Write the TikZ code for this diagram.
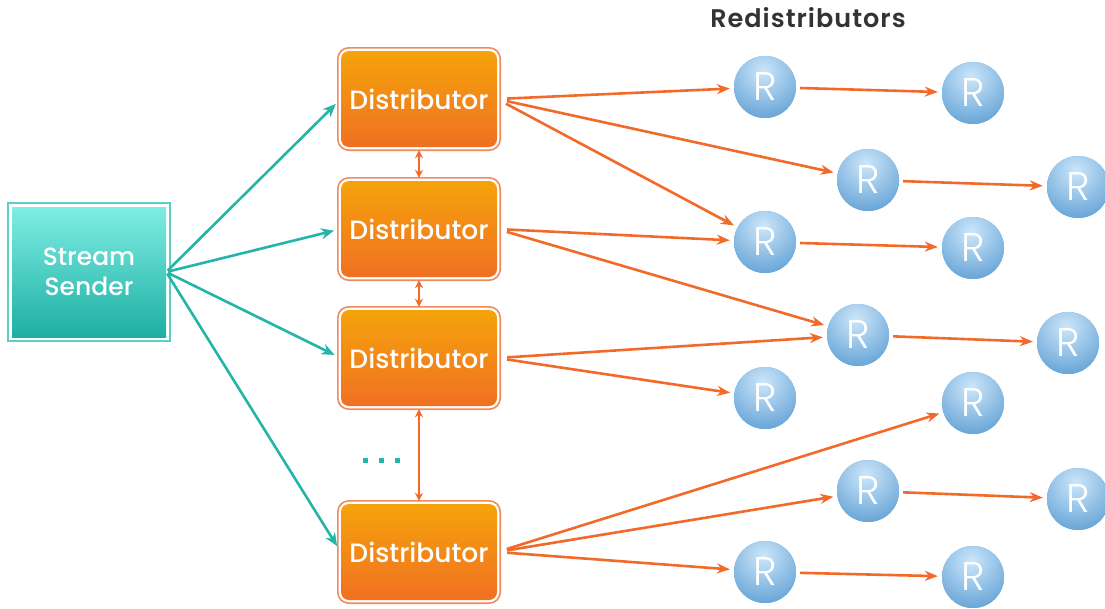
\documentclass[tikz,border=0pt]{standalone}
\usepackage{fontspec}
\setmainfont{Poppins}
\IfFontExistsTF{Poppins Light}{\newfontfamily\rfont{Poppins Light}}{\newfontfamily\rfont{Poppins}}
\IfFontExistsTF{Poppins Medium}{\newfontfamily\mfont{Poppins Medium}}{\newfontfamily\mfont{Poppins}}
\IfFontExistsTF{Poppins SemiBold}{\newfontfamily\sbfont{Poppins SemiBold}[LetterSpace=4]}{\newfontfamily\sbfont{Poppins}[LetterSpace=4]}
\usetikzlibrary{arrows.meta,calc}
\definecolor{distTop}{HTML}{F5A30B}
\definecolor{distBot}{HTML}{F07022}
\definecolor{distFrame}{HTML}{F28A5C}
\definecolor{tealTop}{HTML}{7FEDE3}
\definecolor{tealBot}{HTML}{1DAFA3}
\definecolor{tealFrame}{HTML}{5CCFC5}
\definecolor{tealArrow}{HTML}{22B5A8}
\definecolor{orArrow}{HTML}{F26A2A}
\definecolor{rLight}{HTML}{CCE6FA}
\definecolor{rDark}{HTML}{5A9CD2}
\definecolor{titleGray}{HTML}{333333}
\tikzset{
  distbox/.style={rectangle, rounded corners=8, minimum width=156, minimum height=96,
    top color=distTop, bottom color=distBot, draw=none, text=white,
    font=\mfont\fontsize{26.5}{30}\selectfont},
  sendbox/.style={rectangle, minimum width=154, minimum height=130,
    top color=tealTop, bottom color=tealBot, draw=none, text=white, align=center,
    font=\mfont\fontsize{25}{30}\selectfont},
  rnode/.style={circle, minimum size=62, inner sep=0, fill=rDark, text=white,
    font=\rfont\fontsize{40}{40}\selectfont,
    path picture={\shade[inner color=rLight, outer color=rDark]
      ($(path picture bounding box.center)+(-2,-16)$) circle (54);}},
  tarrow/.style={draw=tealArrow, line width=2.6, -{Stealth[length=13,width=11]}},
  oarrow/.style={draw=orArrow, line width=2.6, -{Stealth[length=13,width=10]}},
  darrow/.style={draw=orArrow, line width=2, {Stealth[length=8,width=8]}-{Stealth[length=8,width=8]}},
  frameD/.style={draw=distFrame, line width=1.6, rounded corners=11},
  frameS/.style={draw=tealFrame, line width=1.6},
}
\begin{document}
\begin{tikzpicture}[x=1pt,y=-1pt]
\useasboundingbox[fill=white] (0,0) rectangle (1105,608);
% title
\node[text=titleGray, font=\sbfont\fontsize{25.5}{28}\selectfont] (title) at (808,18) {Redistributors};
% sender
\node[sendbox] (S) at (89,272) {Stream\\Sender};
\draw[frameS] ([shift={(-4,-4)}]S.north west) rectangle ([shift={(4,4)}]S.south east);
% distributors
\node[distbox] (D1) at (419,99) {Distributor};
\node[distbox] (D2) at (419,229) {Distributor};
\node[distbox] (D3) at (419,358) {Distributor};
\node[distbox] (D4) at (419,552) {Distributor};
\foreach \d in {D1,D2,D3,D4}{
  \draw[frameD] ([shift={(-3,-3)}]\d.north west) rectangle ([shift={(3,3)}]\d.south east);
}
% dots
\foreach \x in {365,381,397} \fill[tealArrow] (\x-2.5,457.5) rectangle (\x+2.5,462.5);
% redistributors
\node[rnode] (R1) at (765,87) {R};
\node[rnode] (R2) at (973,93) {R};
\node[rnode] (R3) at (868,180) {R};
\node[rnode] (R4) at (1078,187) {R};
\node[rnode] (R5) at (765,242) {R};
\node[rnode] (R6) at (973,248) {R};
\node[rnode] (R7) at (858,335) {R};
\node[rnode] (R8) at (1068,343) {R};
\node[rnode] (R9) at (765,398) {R};
\node[rnode] (R10) at (973,403) {R};
\node[rnode] (R11) at (868,491) {R};
\node[rnode] (R12) at (1078,499) {R};
\node[rnode] (R13) at (765,572) {R};
\node[rnode] (R14) at (973,577) {R};
% sender arrows
\foreach \d in {D1,D2,D3,D4}{
  \draw[tarrow, shorten <=2, shorten >=7] (S.east) -- (\d.west);
}
% distributor links
\draw[darrow, shorten <=3, shorten >=3] (D1) -- (D2);
\draw[darrow, shorten <=3, shorten >=3] (D2) -- (D3);
\draw[darrow, shorten <=3, shorten >=3] (D3) -- (D4);
% distributor to R
\foreach \d/\r in {D1/R1,D1/R3,D1/R5,D2/R5,D2/R7,D3/R7,D3/R9,D4/R10,D4/R11,D4/R13}{
  \draw[oarrow, shorten <=10, shorten >=4] (\d.east) -- (\r);
}
% R to R
\foreach \a/\b in {R1/R2,R3/R4,R5/R6,R7/R8,R11/R12,R13/R14}{
  \draw[oarrow, shorten <=4, shorten >=4] (\a) -- (\b);
}
\end{tikzpicture}
\end{document}
